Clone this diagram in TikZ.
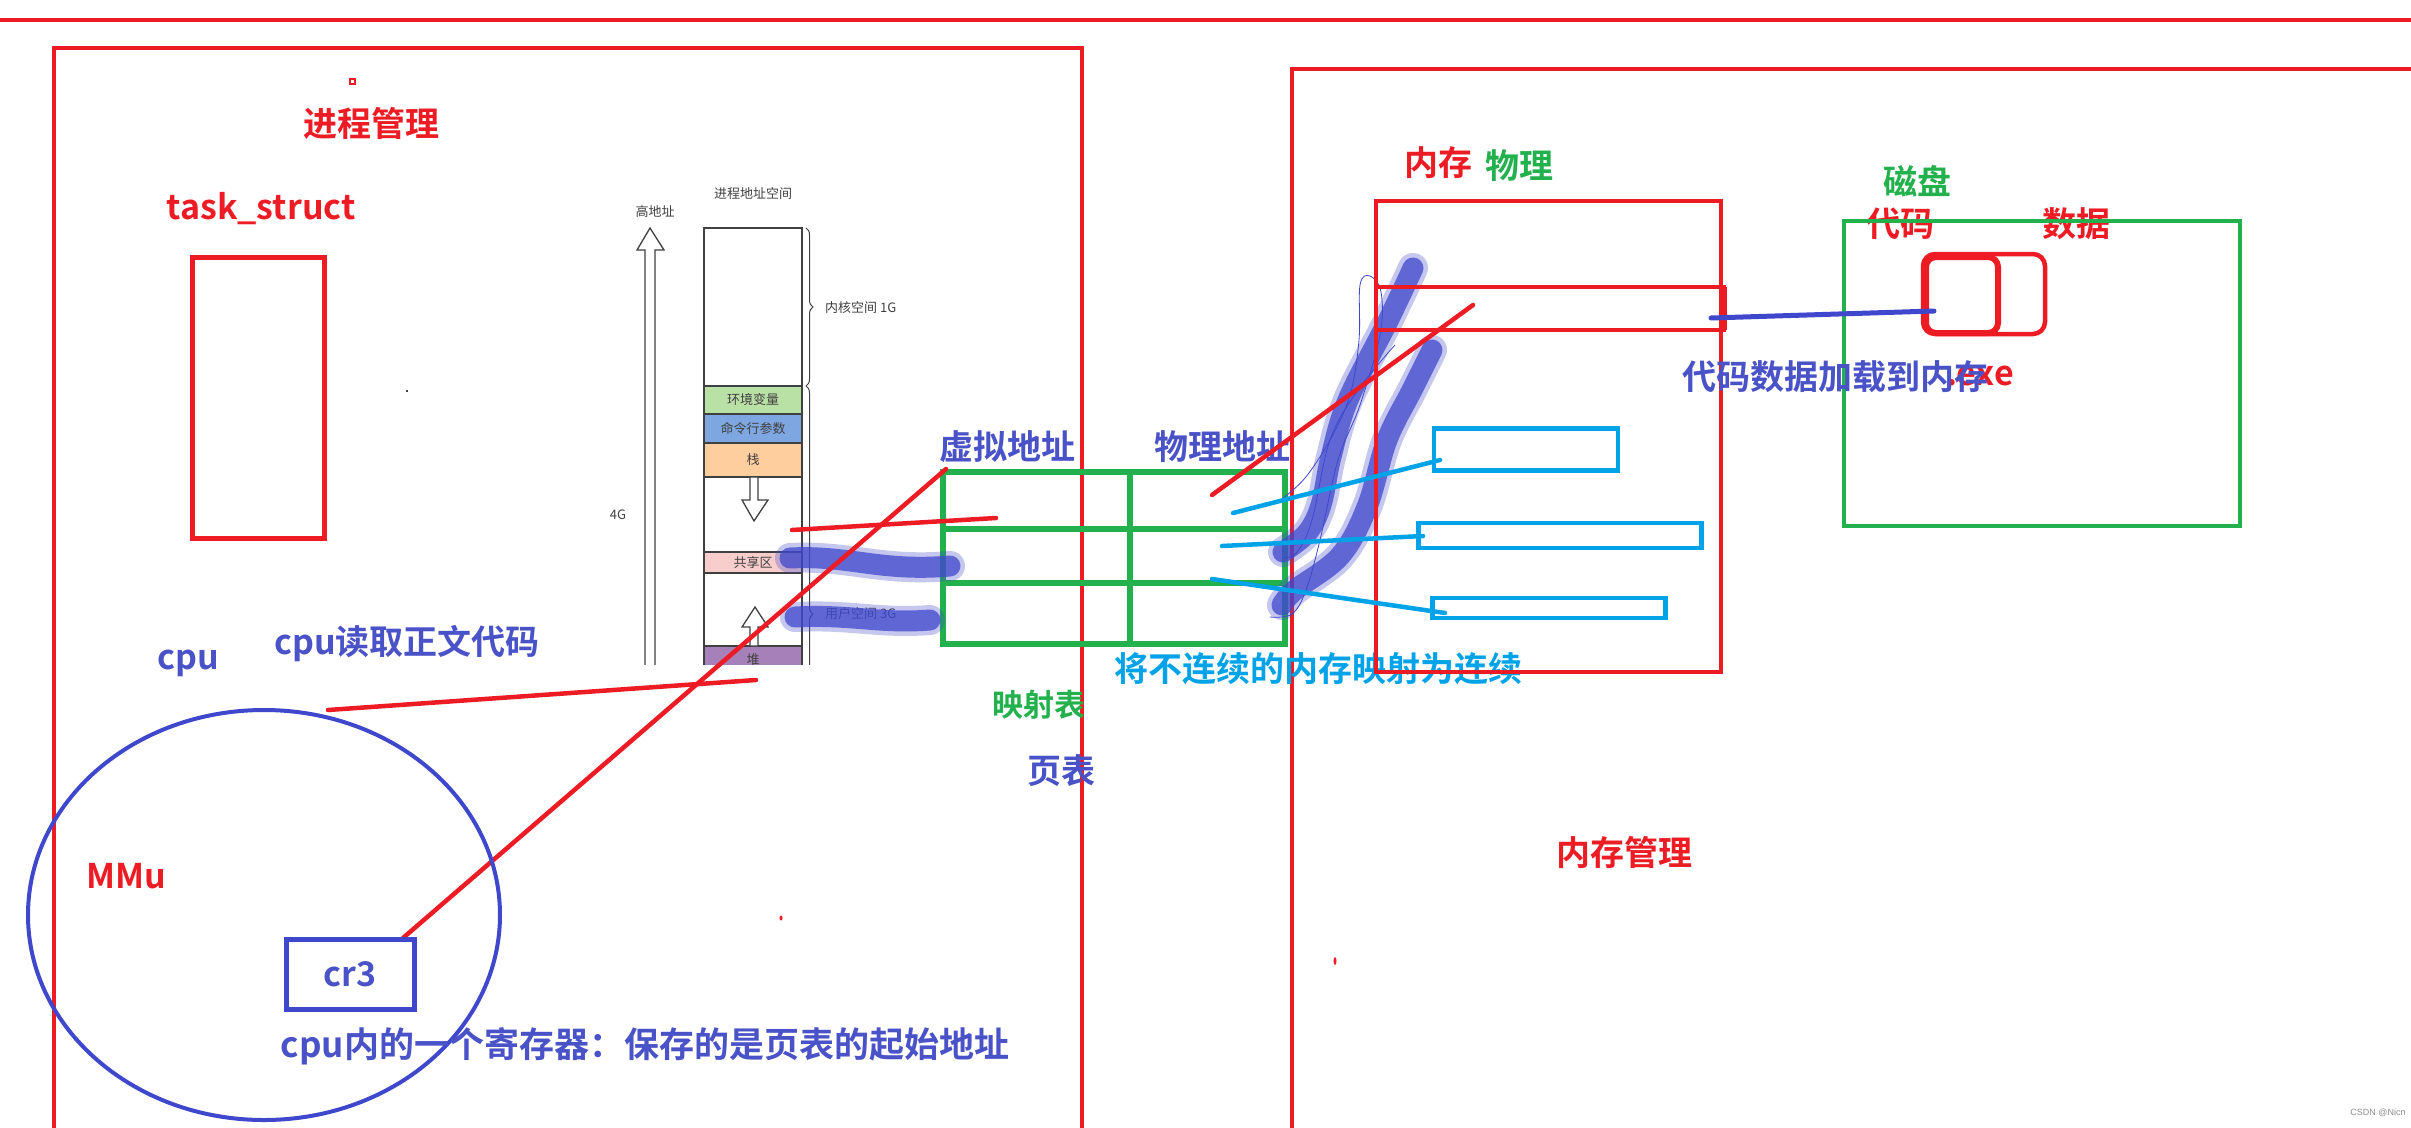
\documentclass[tikz,border=0pt]{standalone}
\usepackage{fontspec}
\setmainfont{Liberation Sans}
\newfontfamily\cjk{Noto Sans CJK SC}[BoldFont={Noto Sans CJK SC Bold}]
\usetikzlibrary{decorations.pathreplacing}
\definecolor{pred}{HTML}{ED1C24}
\definecolor{pgreen}{HTML}{22B14C}
\definecolor{pblue}{HTML}{3F48CC}
\definecolor{tblue}{HTML}{4A52C8}
\definecolor{pcyan}{HTML}{00A2E8}
\definecolor{dgrey}{HTML}{404040}
\definecolor{fgreen}{HTML}{B9E0A5}
\definecolor{fblue}{HTML}{7EA6E0}
\definecolor{forange}{HTML}{FFCE9F}
\definecolor{fpink}{HTML}{F8CECC}
\definecolor{fpurple}{HTML}{A680B8}
\tikzset{
  lbl/.style={font=\cjk\bfseries\fontsize{34}{40}\selectfont, inner sep=0pt},
  mid/.style={font=\cjk\bfseries\fontsize{31}{36}\selectfont, inner sep=0pt},
  tiny/.style={font=\cjk\fontsize{13}{15}\selectfont, text=dgrey, inner sep=0pt},
  redline/.style={draw=pred, line width=4.5pt, line cap=round},
  cyanline/.style={draw=pcyan, line width=4.5pt, line cap=round},
  frame/.style={draw=pred, line width=4.5pt},
  brushsoft/.style={draw=pblue, line width=30pt, line cap=round, line join=round, opacity=0.3},
  brush/.style={draw=pblue, line width=21pt, line cap=round, line join=round, opacity=0.75},
  greyline/.style={draw=dgrey, line width=1.3pt},
}
\begin{document}
\begin{tikzpicture}[x=1pt,y=-1pt]
\useasboundingbox (0,0) rectangle (2411,1127);
\clip (0,0) rectangle (2411,1127);
\fill[white] (0,0) rectangle (2411,1127);

% top line and frames
\draw[frame] (0,20) -- (2411,20);
\draw[frame] (54,1140) -- (54,48) -- (1082,48) -- (1082,1140);
\draw[frame] (1292,1140) -- (1292,69) -- (2420,69);

% process management
\node[lbl,text=pred] (jcgl) at (371,123) {进程管理};
\draw[draw=pred, line width=1.5pt] (350,79) rectangle (355,84);
\node[lbl,text=pred] (ts) at (261,209) {task\_struct};
\node[draw=pred, line width=5pt, minimum width=132pt, minimum height=281pt, inner sep=0pt] (tbox) at (258,397.5) {};
\fill[black] (407,391) circle (1.2pt);

% address space image
\begin{scope}
\clip (590,165) rectangle (945,664);
\node[tiny] (jcdz) at (753,194) {进程地址空间};
\node[tiny] (gdz) at (655,212) {高地址};
\node[tiny] (fourg) at (618,515) {4G};
\draw[greyline, fill=white] (645,670) -- (645,250) -- (637,250) -- (650,228) -- (664,250) -- (655,250) -- (655,670);
\fill[fgreen] (704,386) rectangle (802,414);
\fill[fblue] (704,414) rectangle (802,443);
\fill[forange] (704,443) rectangle (802,477);
\fill[fpink] (704,552) rectangle (802,573);
\fill[fpurple] (704,646) rectangle (802,670);
\draw[greyline] (704,670) -- (704,228) -- (802,228) -- (802,670);
\foreach \yy in {386,414,443,477,552,573,646} \draw[greyline] (704,\yy) -- (802,\yy);
\node[tiny] (hjbl) at (753,400) {环境变量};
\node[tiny] (mlh) at (753,428.5) {命令行参数};
\node[tiny] (zhan) at (753,460) {栈};
\node[tiny] (gxq) at (753,562.5) {共享区};
\node[tiny] (dui) at (753,660) {堆};
\draw[greyline, fill=white] (750,477) -- (750,500) -- (742,500) -- (754,521) -- (768,500) -- (758,500) -- (758,477) -- cycle;
\draw[greyline, fill=white] (750,646) -- (750,627) -- (742,627) -- (755,607) -- (768,627) -- (758,627) -- (758,646) -- cycle;
\draw[draw=dgrey, line width=1pt, decorate, decoration={brace, amplitude=7pt}] (806,228) -- (806,386);
\draw[draw=dgrey, line width=1pt, decorate, decoration={brace, amplitude=7pt}] (806,386) -- (806,842);
\node[tiny, anchor=west] (nhkj) at (825,308) {内核空间 1G};
\node[tiny, anchor=west] (yhkj) at (825,614) {用户空间 3G};
\end{scope}

% page table
\draw[draw=pgreen, line width=6pt] (943,472) rectangle (1285,644);
\draw[draw=pgreen, line width=6pt] (1130,472) -- (1130,644) (943,529) -- (1285,529) (943,583) -- (1285,583);
\node[lbl,text=tblue] (xndz) at (1007,447) {虚拟地址};
\node[lbl,text=tblue] (wldz) at (1222,447) {物理地址};
\node[mid,text=pgreen] (ysb) at (1039,705) {映射表};
\node[lbl,text=tblue] (yb) at (1061,771) {页表};
\node[lbl,text=pcyan] (bljx) at (1318,669) {将不连续的内存映射为连续};

% brush strokes
\foreach \s in {brushsoft,brush}{
  \draw[\s] (790,558) .. controls (850,555) and (880,572) .. (950,566);
  \draw[\s] (795,617) .. controls (850,614) and (880,624) .. (930,620);
  \draw[\s] plot[smooth, tension=0.6] coordinates {(1283,552) (1307,533) (1321,505) (1331,457) (1348,400) (1387,323) (1413,268)};
  \draw[\s] plot[smooth, tension=0.6] coordinates {(1282,605) (1295,590) (1340,556) (1367,507) (1387,440) (1412,390) (1432,350)};
}
\draw[draw=pblue, line width=0.8pt] plot[smooth, tension=0.6] coordinates {(1270,617) (1292,614) (1306,590) (1320,540) (1338,460) (1360,405) (1380,335) (1381,292) (1370,276) (1360,285) (1359,340) (1350,395) (1330,440) (1305,478) (1283,498)};
\draw[draw=pblue, line width=0.8pt] plot[smooth, tension=0.6] coordinates {(1282,558) (1297,552) (1312,520) (1330,440) (1358,390) (1395,345)};

% memory
\node[lbl,text=pred] (nc) at (1438,163) {内存};
\node[lbl,text=pgreen] (wl) at (1519,166) {物理};
\node[draw=pred, line width=4.5pt, minimum width=345pt, minimum height=471pt, inner sep=0pt] (mem) at (1548.5,436.5) {};
\draw[draw=pred, line width=4.5pt] (1376,287) rectangle (1724,330);
\draw[draw=pred, line width=6pt] (1724,287) -- (1724,330);
\node[draw=pcyan, line width=4.5pt, minimum width=184pt, minimum height=42pt, inner sep=0pt] (c1) at (1526,449.5) {};
\node[draw=pcyan, line width=4.5pt, minimum width=283pt, minimum height=25pt, inner sep=0pt] (c2) at (1560,535.5) {};
\node[draw=pcyan, line width=4.5pt, minimum width=233pt, minimum height=20pt, inner sep=0pt] (c3) at (1549,608) {};

% red and cyan connectors
\coordinate (r1a) at (792,530); \coordinate (r1b) at (996,518);
\draw[redline] (r1a) -- (r1b);
\coordinate (r2a) at (403,938); \coordinate (r2b) at (946,469);
\draw[redline] (r2a) -- (r2b);
\coordinate (r3a) at (328,710); \coordinate (r3b) at (756,680);
\draw[redline] (r3a) -- (r3b);
\coordinate (r4a) at (1212,495); \coordinate (r4b) at (1473,305);
\draw[redline] (r4a) -- (r4b);
\coordinate (q1) at (1233,513); \coordinate (q2) at (1222,546); \coordinate (q3) at (1212,579);
\coordinate (e1) at (1440,460); \coordinate (e2) at (1423,536); \coordinate (e3) at (1445,613);
\draw[cyanline] (q1) -- (e1);
\draw[cyanline] (q2) -- (e2);
\draw[cyanline] (q3) -- (e3);

% cpu
\node[lbl,text=tblue] (cpu) at (188,663) {cpu};
\node[lbl,text=tblue] (cpudq) at (407,644) {cpu读取正文代码};
\draw[draw=pblue, line width=4pt] (264,915) ellipse (236 and 205);
\node[lbl,text=pred] (mmu) at (126,876) {MMu};
\node[draw=pblue, line width=5pt, minimum width=128pt, minimum height=70pt, inner sep=0pt, lbl, text=tblue] (cr3) at (350,974) {cr3};
\node[lbl,text=tblue,font=\cjk\bfseries\fontsize{35}{40}\selectfont] (jcq) at (645,1046) {cpu内的一个寄存器：保存的是页表的起始地址};
\fill[pred] (781,918) ellipse (1.5 and 2.5);
\fill[pred] (1335,961) ellipse (1.5 and 4);

% disk
\node[lbl,text=pgreen] (cp) at (1917,181) {磁盘};
\node[lbl,text=pred] (dm) at (1900,224) {代码};
\node[lbl,text=pred] (sj) at (2076,224) {数据};
\node[draw=pgreen, line width=4.5pt, minimum width=396pt, minimum height=305pt, inner sep=0pt] (disk) at (2042,373.5) {};
\draw[draw=pred, line width=4.5pt, rounded corners=12pt] (1923,254) rectangle (2045,334);
\draw[draw=pred, line width=6pt, rounded corners=10pt] (1926,257) rectangle (1998,333);
\coordinate (exe) at (1934,311);
\draw[draw=pblue, line width=5pt, line cap=round] (1711,318) -- (exe);
\node[lbl,text=pred,anchor=east] (dotexe) at (2014,376) {.exe};
\node[lbl,text=tblue,anchor=west] (jz) at (1682,377) {代码数据加载到内存};
\node[lbl,text=pred] (ncgl) at (1624,852) {内存管理};
\node[font=\fontsize{9}{10}\selectfont, text=black!45, inner sep=0pt] (csdn) at (2378,1113) {CSDN @Nicn};
\end{tikzpicture}
\end{document}
